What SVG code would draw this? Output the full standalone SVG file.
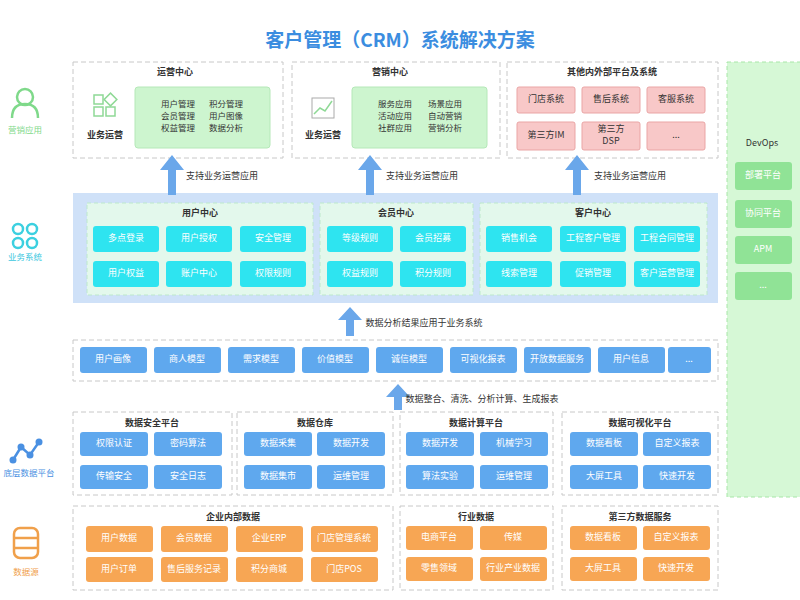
<svg xmlns="http://www.w3.org/2000/svg" width="800" height="600" viewBox="0 0 800 600">
<style>
text{font-family:"Noto Sans CJK SC","Noto Sans",sans-serif;text-anchor:middle;dominant-baseline:middle}
.dash{fill:#fff;stroke:#c8c8c8;stroke-dasharray:5 3;stroke-width:1}
.t{font-size:9px;fill:#333;font-weight:bold}
.s{font-size:9px;fill:#333}
.g{font-size:8.5px;fill:#333}
.gbox{fill:#cdf5cf;stroke:#b5e8b8}
.pink{fill:#f8c8c8;stroke:#eaa5a5}
.cy{fill:#2ee4f0}
.bl{fill:#5fa8ee}
.or{fill:#f7a654}
.gn{fill:#90e396}
.w{font-size:9px;fill:#fff}
.arr{fill:#6aa7ea}
</style>
<rect width="800" height="600" fill="#fff"/>
<text x="400" y="42" font-size="19" font-weight="bold" fill="#3b8de0">客户管理（CRM）系统解决方案</text>

<!-- left labels -->
<g id="lbl-yingxiao">
<circle cx="25" cy="97" r="8" fill="none" stroke="#7fd98a" stroke-width="2.5"/>
<path d="M12 118 Q12 104 25 104 Q38 104 38 118" fill="none" stroke="#7fd98a" stroke-width="2.5"/>
<text x="25" y="131" font-size="8.5" fill="#7fd98a">营销应用</text>
</g>
<g id="lbl-yewu" fill="none" stroke="#3cd0e0" stroke-width="2.5">
<circle cx="18" cy="229" r="5"/><circle cx="32" cy="229" r="5"/><circle cx="18" cy="243" r="5"/><circle cx="32" cy="243" r="5"/>
<text x="25" y="258" font-size="8.5" fill="#3cc8e0" stroke="none">业务系统</text>
</g>
<g id="lbl-dichen">
<polyline points="13,460 21,447 30,455 39,442" fill="none" stroke="#4a90e2" stroke-width="2.5"/>
<circle cx="13" cy="460" r="3.5" fill="#4a90e2"/><circle cx="21" cy="447" r="3.5" fill="#4a90e2"/><circle cx="30" cy="455" r="3.5" fill="#4a90e2"/><circle cx="39" cy="442" r="3.5" fill="#4a90e2"/>
<text x="29" y="474" font-size="8.5" fill="#4a90e2">底层数据平台</text>
</g>
<g id="lbl-shujuyuan" fill="none" stroke="#f0a04b" stroke-width="2.5">
<rect x="14" y="528" width="24" height="30" rx="6"/><line x1="14" y1="538" x2="38" y2="538"/><line x1="14" y1="548" x2="38" y2="548"/>
<text x="26" y="573" font-size="8.5" fill="#f0a04b" stroke="none">数据源</text>
</g>

<!-- top row -->
<g id="yunying">
<rect class="dash" x="73" y="62" width="210" height="96"/>
<text class="t" x="175" y="73">运营中心</text>
<g fill="none" stroke="#8fd996" stroke-width="1.5"><rect x="94" y="95" width="9" height="9"/><rect x="106" y="95" width="9" height="9" transform="rotate(45 110.5 99.5)"/><rect x="94" y="107" width="9" height="9"/><rect x="106" y="107" width="9" height="9"/></g>
<text class="t" x="105" y="136">业务运营</text>
<rect class="gbox" x="135" y="87" width="135" height="61" rx="3"/>
<text class="g" x="178" y="105">用户管理</text><text class="g" x="226" y="105">积分管理</text>
<text class="g" x="178" y="117">会员管理</text><text class="g" x="226" y="117">用户图像</text>
<text class="g" x="178" y="129">权益管理</text><text class="g" x="226" y="129">数据分析</text>
</g>
<g id="yingxiao">
<rect class="dash" x="292" y="62" width="208" height="96"/>
<text class="t" x="390" y="73">营销中心</text>
<rect x="312" y="98" width="22" height="20" fill="none" stroke="#aaa"/><polyline points="314,114 320,108 325,111 332,101" fill="none" stroke="#8fd996" stroke-width="1.5"/>
<text class="t" x="323" y="136">业务运营</text>
<rect class="gbox" x="352" y="87" width="135" height="61" rx="3"/>
<text class="g" x="395" y="105">服务应用</text><text class="g" x="445" y="105">场景应用</text>
<text class="g" x="395" y="117">活动应用</text><text class="g" x="445" y="117">自动营销</text>
<text class="g" x="395" y="129">社群应用</text><text class="g" x="445" y="129">营销分析</text>
</g>
<g id="qita">
<rect class="dash" x="507" y="62" width="211" height="96"/>
<text class="t" x="612" y="73">其他内外部平台及系统</text>
<rect class="pink" x="517" y="87" width="58" height="26" rx="2"/><text class="s" x="546" y="100">门店系统</text>
<rect class="pink" x="582" y="87" width="58" height="26" rx="2"/><text class="s" x="611" y="100">售后系统</text>
<rect class="pink" x="647" y="87" width="58" height="26" rx="2"/><text class="s" x="676" y="100">客服系统</text>
<rect class="pink" x="517" y="122" width="58" height="28" rx="2"/><text class="s" x="546" y="136">第三方IM</text>
<rect class="pink" x="582" y="122" width="58" height="28" rx="2"/><text class="s" x="611" y="130">第三方</text><text class="s" x="611" y="142">DSP</text>
<rect class="pink" x="647" y="122" width="58" height="28" rx="2"/><text class="s" x="676" y="136">...</text>
</g>

<!-- devops -->
<g id="devops">
<rect x="727" y="62" width="80" height="435" fill="#d6f8d6" stroke="#a8e6a8" stroke-dasharray="4 3"/>
<text class="s" x="762" y="144">DevOps</text>
<rect class="gn" x="735" y="162" width="57" height="28" rx="3"/><text class="w" x="763" y="176">部署平台</text>
<rect class="gn" x="735" y="200" width="57" height="28" rx="3"/><text class="w" x="763" y="214">协同平台</text>
<rect class="gn" x="735" y="236" width="57" height="28" rx="3"/><text class="w" x="763" y="250">APM</text>
<rect class="gn" x="735" y="272" width="57" height="28" rx="3"/><text class="w" x="763" y="286">...</text>
</g>

<!-- business systems -->
<g id="yewu">
<rect x="73" y="193" width="645" height="110" fill="#cfe1f8"/>
<rect x="87" y="203" width="226" height="92" fill="#e3f8ec" stroke="#bde8cc" stroke-dasharray="4 3"/>
<text class="t" x="200" y="214">用户中心</text>
<rect class="cy" x="93" y="226" width="66" height="26" rx="3"/><text class="w" x="126" y="239">多点登录</text>
<rect class="cy" x="166" y="226" width="66" height="26" rx="3"/><text class="w" x="199" y="239">用户授权</text>
<rect class="cy" x="240" y="226" width="66" height="26" rx="3"/><text class="w" x="273" y="239">安全管理</text>
<rect class="cy" x="93" y="261" width="66" height="26" rx="3"/><text class="w" x="126" y="274">用户权益</text>
<rect class="cy" x="166" y="261" width="66" height="26" rx="3"/><text class="w" x="199" y="274">账户中心</text>
<rect class="cy" x="240" y="261" width="66" height="26" rx="3"/><text class="w" x="273" y="274">权限规则</text>
<rect x="320" y="203" width="153" height="92" fill="#e3f8ec" stroke="#bde8cc" stroke-dasharray="4 3"/>
<text class="t" x="396" y="214">会员中心</text>
<rect class="cy" x="327" y="226" width="66" height="26" rx="3"/><text class="w" x="360" y="239">等级规则</text>
<rect class="cy" x="400" y="226" width="66" height="26" rx="3"/><text class="w" x="433" y="239">会员招募</text>
<rect class="cy" x="327" y="261" width="66" height="26" rx="3"/><text class="w" x="360" y="274">权益规则</text>
<rect class="cy" x="400" y="261" width="66" height="26" rx="3"/><text class="w" x="433" y="274">积分规则</text>
<rect x="480" y="203" width="227" height="92" fill="#e3f8ec" stroke="#bde8cc" stroke-dasharray="4 3"/>
<text class="t" x="593" y="214">客户中心</text>
<rect class="cy" x="486" y="226" width="66" height="26" rx="3"/><text class="w" x="519" y="239">销售机会</text>
<rect class="cy" x="560" y="226" width="66" height="26" rx="3"/><text class="w" x="593" y="239">工程客户管理</text>
<rect class="cy" x="634" y="226" width="66" height="26" rx="3"/><text class="w" x="667" y="239">工程合同管理</text>
<rect class="cy" x="486" y="261" width="66" height="26" rx="3"/><text class="w" x="519" y="274">线索管理</text>
<rect class="cy" x="560" y="261" width="66" height="26" rx="3"/><text class="w" x="593" y="274">促销管理</text>
<rect class="cy" x="634" y="261" width="66" height="26" rx="3"/><text class="w" x="667" y="274">客户运营管理</text>
</g>

<!-- data models -->
<g id="moxing">
<rect class="dash" x="73" y="340" width="645" height="41"/>
<rect class="bl" x="80" y="347" width="67" height="26" rx="3"/><text class="w" x="113" y="360">用户画像</text>
<rect class="bl" x="154" y="347" width="67" height="26" rx="3"/><text class="w" x="187" y="360">商人模型</text>
<rect class="bl" x="228" y="347" width="67" height="26" rx="3"/><text class="w" x="261" y="360">需求模型</text>
<rect class="bl" x="302" y="347" width="67" height="26" rx="3"/><text class="w" x="335" y="360">价值模型</text>
<rect class="bl" x="376" y="347" width="67" height="26" rx="3"/><text class="w" x="409" y="360">诚信模型</text>
<rect class="bl" x="450" y="347" width="67" height="26" rx="3"/><text class="w" x="483" y="360">可视化报表</text>
<rect class="bl" x="524" y="347" width="67" height="26" rx="3"/><text class="w" x="557" y="360">开放数据服务</text>
<rect class="bl" x="598" y="347" width="67" height="26" rx="3"/><text class="w" x="631" y="360">用户信息</text>
<rect class="bl" x="668" y="347" width="43" height="26" rx="3"/><text class="w" x="689" y="360">...</text>
</g>

<!-- data platform -->
<g id="anquan">
<rect class="dash" x="73" y="412" width="159" height="83"/>
<text class="t" x="152" y="424">数据安全平台</text>
<rect class="bl" x="80" y="432" width="68" height="24" rx="3"/><text class="w" x="114" y="444">权限认证</text>
<rect class="bl" x="154" y="432" width="68" height="24" rx="3"/><text class="w" x="188" y="444">密码算法</text>
<rect class="bl" x="80" y="465" width="68" height="24" rx="3"/><text class="w" x="114" y="477">传输安全</text>
<rect class="bl" x="154" y="465" width="68" height="24" rx="3"/><text class="w" x="188" y="477">安全日志</text>
</g>
<g id="cangku">
<rect class="dash" x="237" y="412" width="156" height="83"/>
<text class="t" x="315" y="424">数据仓库</text>
<rect class="bl" x="244" y="432" width="68" height="24" rx="3"/><text class="w" x="278" y="444">数据采集</text>
<rect class="bl" x="317" y="432" width="68" height="24" rx="3"/><text class="w" x="351" y="444">数据开发</text>
<rect class="bl" x="244" y="465" width="68" height="24" rx="3"/><text class="w" x="278" y="477">数据集市</text>
<rect class="bl" x="317" y="465" width="68" height="24" rx="3"/><text class="w" x="351" y="477">运维管理</text>
</g>
<g id="jisuan">
<rect class="dash" x="400" y="412" width="153" height="83"/>
<text class="t" x="476" y="424">数据计算平台</text>
<rect class="bl" x="406" y="432" width="68" height="24" rx="3"/><text class="w" x="440" y="444">数据开发</text>
<rect class="bl" x="480" y="432" width="68" height="24" rx="3"/><text class="w" x="514" y="444">机械学习</text>
<rect class="bl" x="406" y="465" width="68" height="24" rx="3"/><text class="w" x="440" y="477">算法实验</text>
<rect class="bl" x="480" y="465" width="68" height="24" rx="3"/><text class="w" x="514" y="477">运维管理</text>
</g>
<g id="keshihua">
<rect class="dash" x="562" y="412" width="156" height="83"/>
<text class="t" x="640" y="424">数据可视化平台</text>
<rect class="bl" x="570" y="432" width="68" height="24" rx="3"/><text class="w" x="604" y="444">数据看板</text>
<rect class="bl" x="643" y="432" width="68" height="24" rx="3"/><text class="w" x="677" y="444">自定义报表</text>
<rect class="bl" x="570" y="465" width="68" height="24" rx="3"/><text class="w" x="604" y="477">大屏工具</text>
<rect class="bl" x="643" y="465" width="68" height="24" rx="3"/><text class="w" x="677" y="477">快速开发</text>
</g>

<!-- data sources -->
<g id="qiye">
<rect class="dash" x="73" y="506" width="320" height="84"/>
<text class="t" x="233" y="518">企业内部数据</text>
<rect class="or" x="86" y="526" width="67" height="26" rx="3"/><text class="w" x="119" y="539">用户数据</text>
<rect class="or" x="161" y="526" width="67" height="26" rx="3"/><text class="w" x="194" y="539">会员数据</text>
<rect class="or" x="236" y="526" width="67" height="26" rx="3"/><text class="w" x="269" y="539">企业ERP</text>
<rect class="or" x="311" y="526" width="67" height="26" rx="3"/><text class="w" x="344" y="539">门店管理系统</text>
<rect class="or" x="86" y="557" width="67" height="25" rx="3"/><text class="w" x="119" y="570">用户订单</text>
<rect class="or" x="161" y="557" width="67" height="25" rx="3"/><text class="w" x="194" y="570">售后服务记录</text>
<rect class="or" x="236" y="557" width="67" height="25" rx="3"/><text class="w" x="269" y="570">积分商城</text>
<rect class="or" x="311" y="557" width="67" height="25" rx="3"/><text class="w" x="344" y="570">门店POS</text>
</g>
<g id="hangye">
<rect class="dash" x="400" y="506" width="153" height="84"/>
<text class="t" x="476" y="518">行业数据</text>
<rect class="or" x="406" y="526" width="67" height="24" rx="3"/><text class="w" x="439" y="538">电商平台</text>
<rect class="or" x="480" y="526" width="67" height="24" rx="3"/><text class="w" x="513" y="538">传媒</text>
<rect class="or" x="406" y="557" width="67" height="24" rx="3"/><text class="w" x="439" y="569">零售领域</text>
<rect class="or" x="480" y="557" width="67" height="24" rx="3"/><text class="w" x="513" y="569">行业产业数据</text>
</g>
<g id="disanfang">
<rect class="dash" x="562" y="506" width="156" height="84"/>
<text class="t" x="640" y="518">第三方数据服务</text>
<rect class="or" x="570" y="526" width="67" height="24" rx="3"/><text class="w" x="603" y="538">数据看板</text>
<rect class="or" x="643" y="526" width="67" height="24" rx="3"/><text class="w" x="676" y="538">自定义报表</text>
<rect class="or" x="570" y="557" width="67" height="24" rx="3"/><text class="w" x="603" y="569">大屏工具</text>
<rect class="or" x="643" y="557" width="67" height="24" rx="3"/><text class="w" x="676" y="569">快速开发</text>
</g>

<!-- connectors -->
<g id="connectors">
<polygon class="arr" points="168,195 168,170 160,170 172,155 184,170 176,170 176,195"/>
<text class="s" x="222" y="177">支持业务运营应用</text>
<polygon class="arr" points="366,195 366,170 358,170 370,155 382,170 374,170 374,195"/>
<text class="s" x="422" y="177">支持业务运营应用</text>
<polygon class="arr" points="573,195 573,170 565,170 577,155 589,170 581,170 581,195"/>
<text class="s" x="630" y="177">支持业务运营应用</text>
<polygon class="arr" points="346,336 346,320 338,320 350,307 362,320 354,320 354,336"/>
<text class="s" x="424" y="324">数据分析结果应用于业务系统</text>
<polygon class="arr" points="394,410 394,397 386,397 398,384 410,397 402,397 402,410"/>
<text class="s" x="482" y="400">数据整合、清洗、分析计算、生成报表</text>
</g>
</svg>
